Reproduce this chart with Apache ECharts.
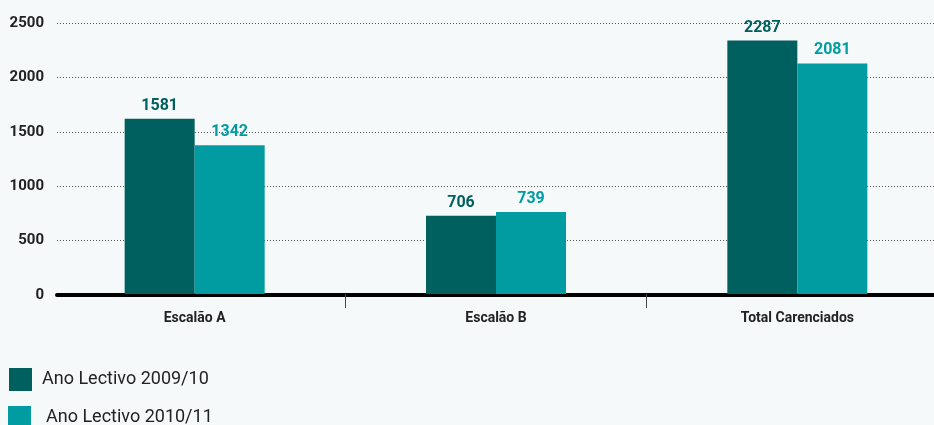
<!DOCTYPE html>
<html>
<head>
<meta charset="utf-8">
<script src="https://cdn.jsdelivr.net/npm/echarts@6/dist/echarts.min.js"></script>
<style>
html,body{margin:0;padding:0;background:#f6f9f9;}
#c{width:934px;height:425px;}
</style>
</head>
<body>
<div id="c"></div>
<script>
const categories = ['Escalão A', 'Escalão B', 'Total Carenciados'];
const seriesNames = ['Ano Lectivo 2009/10', 'Ano Lectivo 2010/11'];
const values2009 = [1581, 706, 2287];
const values2010 = [1342, 739, 2081];
const yTicks = [0, 500, 1000, 1500, 2000, 2500];

const colors = ['#005f5f', '#009ca2'];
const font = 'Roboto, "Noto Sans", sans-serif';

const legendText = { fontSize: 18, color: '#222', fontFamily: font };

const chart = echarts.init(document.getElementById('c'));
chart.setOption({
  backgroundColor: '#f6f9f9',
  animation: false,
  textStyle: { fontFamily: font },
  legend: [
    {
      left: 9, top: 368, padding: 0, itemWidth: 23, itemHeight: 23, icon: 'rect',
      data: [seriesNames[0]], textStyle: Object.assign({}, legendText, { padding: [0, 0, 0, 5] })
    },
    {
      left: 8, top: 406, padding: 0, itemWidth: 23, itemHeight: 23, icon: 'rect',
      data: [seriesNames[1]], textStyle: Object.assign({}, legendText, { padding: [0, 0, 0, 10] })
    }
  ],
  grid: [
    { left: 57, right: 0, top: 23, bottom: 130, outerBoundsMode: 'none' },
    { left: 44, right: -14, top: 17, bottom: 131, outerBoundsMode: 'none' }
  ],
  xAxis: [
    {
      gridIndex: 0, type: 'value', min: 0, max: 1,
      axisLine: { show: true, onZero: false, lineStyle: { color: '#000', width: 4 } },
      axisTick: { show: false }, axisLabel: { show: false }, splitLine: { show: false }
    },
    {
      gridIndex: 1, type: 'category', data: categories,
      axisLine: { show: false },
      axisTick: { show: true, length: 14, interval: function (i) { return i > 0; }, lineStyle: { color: '#444', width: 1 } },
      axisLabel: { fontSize: 14, fontWeight: 'bold', color: '#222', margin: 17, fontFamily: font }
    }
  ],
  yAxis: [
    {
      gridIndex: 0, type: 'value', min: yTicks[0], max: yTicks[yTicks.length - 1], interval: 500,
      axisLine: { show: false }, axisTick: { show: false },
      axisLabel: { fontSize: 15, fontWeight: 'bold', color: '#222', margin: 13, fontFamily: font, formatter: function (v) { return String(v); } },
      splitLine: { show: true, lineStyle: { color: '#555', type: [1, 2], width: 1 } }
    },
    {
      gridIndex: 1, type: 'value', min: 0, max: 2500, show: false
    }
  ],
  series: [
    {
      name: seriesNames[0], type: 'bar', xAxisIndex: 1, yAxisIndex: 1,
      data: values2009, barWidth: 70, barGap: '0%',
      itemStyle: { color: colors[0] },
      label: { show: true, position: 'top', distance: 5, fontSize: 16, fontWeight: 'bold', color: colors[0], fontFamily: font }
    },
    {
      name: seriesNames[1], type: 'bar', xAxisIndex: 1, yAxisIndex: 1,
      data: values2010, barWidth: 70, barGap: '0%',
      itemStyle: { color: colors[1] },
      label: { show: true, position: 'top', distance: 5, fontSize: 16, fontWeight: 'bold', color: colors[1], fontFamily: font }
    }
  ]
});
</script>
</body>
</html>
